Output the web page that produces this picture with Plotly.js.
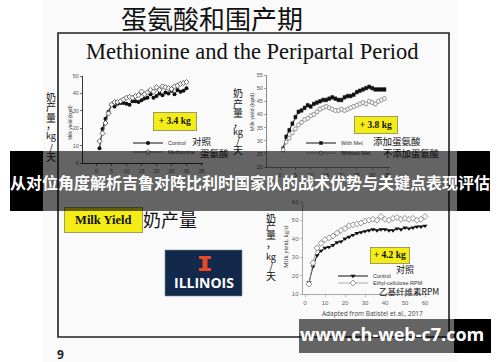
<!DOCTYPE html>
<html><head><meta charset="utf-8">
<script src="https://cdn.plot.ly/plotly-3.0.1.min.js"></script>
<style>html,body{margin:0;padding:0;background:#fff;}#chart{width:500px;height:362px;}</style>
</head><body><div id="chart"></div>
<script>
// ---- data ----
var days1 = [1,2,3,4,5,6,7,8,9,10,11,12,13,14,15,16,17,18,19,20,21,22,23,24,25,26,27,28,29,30];
var control1 = [8.5,19.5,25.5,29.5,33.5,32.5,34,34.5,34.5,34,33.5,35.5,35.5,35,36,37,37.5,39.5,37.5,38.5,40,39,40.5,40,41.5,39.5,42,41,41.5,43];
var methionine1 = [12.5,17,23,28.5,33.5,35,35,35.5,36.5,37.5,38,37.5,38.5,39,41,39.5,40.5,42,41,43.5,42,44,43.5,43,42.5,44,44.5,45.5,46,46.5];
var ticks1 = [0,5,10,15,20,25,30,35];

var days2 = [1,2,3,4,5,6,7,8,9,10,11,12,13,14,15,16,17,18,19,20,21,22,23,24,25,26,27,28,29,30,31,32,33,34];
var withMet = [27,31.5,34,36.5,39,41,41.5,42.5,43.5,43,44,44.5,45,45.5,45.5,46,46.5,46,45.5,45.5,46.5,47,47,47.5,48.5,49,49.5,50,50.5,50,49.5,49.5,49.5,49.5];
var withoutMet = [26.5,29.5,31,33,34.5,36,37,38,38.5,39.5,40,41,42,42.5,43,42.5,42,41.5,41.5,42,41.5,42,42.5,43,43.5,44,44.5,44,45,44.5,44,45,45.5,46];
var ticks2 = [0,5,10,15,20,25,30,35];

var days3 = [2,4,6,8,10,12,14,16,18,20,22,24,26,28,30,32,34,36,38,40,42,44,46,48,50,52,54,56,58,60];
var control3 = [16.5,25,31,33.5,35,35.5,36.5,38,38.5,40,41,42,43,43.5,44,44.5,45,44.5,45,45,44.5,44.5,45.5,45,46,45.5,46,46.5,46.5,47];
var rpm3 = [15.5,27,35,37.5,39.5,40.5,41.5,43,44.5,45.5,47,47.5,48,48.5,49.5,50,50.5,50,52,50.5,50,51,51.5,50.5,51,50.5,51,50,50.5,52];
var ticks3 = [0,10,20,30,40,50,60];

var gains = ['+ 3.4 kg', '+ 3.8 kg', '+ 4.2 kg'];

// ---- helpers (pixel -> paper) ----
function X(p){return p/500;}
function Y(p){return 1-p/362;}

var sansFont = 'Liberation Sans, Arial, sans-serif';
var cjk = 'Noto Sans CJK SC, sans-serif';
var serif = 'Liberation Serif, Times New Roman, serif';

var traces = [
  {x:days1, y:control1, xaxis:'x', yaxis:'y', name:'Control', legend:'legend', mode:'lines+markers',
   line:{color:'#111',width:1}, marker:{symbol:'circle',size:4,color:'#111'}},
  {x:days1, y:methionine1, xaxis:'x', yaxis:'y', name:'Methionine', legend:'legend2', mode:'lines+markers',
   line:{color:'#666',width:0.8}, marker:{symbol:'diamond',size:4,color:'#fff',line:{color:'#444',width:0.8}}},
  {x:days2, y:withMet, xaxis:'x2', yaxis:'y2', name:'With Met', legend:'legend3', mode:'lines+markers',
   line:{color:'#111',width:1}, marker:{symbol:'square',size:3.5,color:'#111'},
   error_y:{type:'constant',value:0.7,width:1.5,thickness:0.6,color:'#333'}},
  {x:days2, y:withoutMet, xaxis:'x2', yaxis:'y2', name:'Without Met', legend:'legend4', mode:'lines+markers',
   line:{color:'#999',width:0.8}, marker:{symbol:'circle',size:3.8,color:'#fff',line:{color:'#888',width:0.8}},
   error_y:{type:'constant',value:0.7,width:1.5,thickness:0.6,color:'#999'}},
  {x:days3, y:control3, xaxis:'x3', yaxis:'y3', name:'Control', legend:'legend5', mode:'lines+markers',
   line:{color:'#111',width:1}, marker:{symbol:'triangle-down',size:4.5,color:'#111'}},
  {x:days3, y:rpm3, xaxis:'x3', yaxis:'y3', name:'Ethyl-cellulose RPM', legend:'legend6', mode:'lines+markers',
   line:{color:'#999',width:0.8}, marker:{symbol:'diamond',size:4.5,color:'#fff',line:{color:'#777',width:0.8}}}
];

function axisStyle(o){
  var base = {showgrid:false, zeroline:false, showline:true, linewidth:1, ticks:'outside', ticklen:2, tickwidth:0.8,
    tickfont:{family:sansFont,size:5.5,color:'#555'}, fixedrange:true};
  for (var k in o) base[k]=o[k];
  return base;
}

function legendAt(xText, yMid){
  return {x:X(xText-42), y:Y(yMid), xanchor:'left', yanchor:'middle', bgcolor:'rgba(0,0,0,0)',
    borderwidth:0, itemwidth:30, font:{family:sansFont,size:5.5,color:'#333'}, tracegroupgap:0};
}

var annotations = [];
function ann(text, x, y, opt){
  var a = {text:text, x:X(x), y:Y(y), xref:'paper', yref:'paper', showarrow:false, xanchor:'center', yanchor:'middle'};
  for (var k in opt) a[k]=opt[k];
  annotations.push(a);
}

// Title texts
ann('蛋氨酸和围产期', 211.5, 18, {font:{family:cjk,size:26,color:'#111'}, borderpad:0});
ann('Methionine and the Peripartal Period', 251.5, 52, {font:{family:serif,size:22.5,color:'#111'}});

// vertical Chinese labels
var vchars = ['奶','产','量','，','kg','/','天'];
function vlabel(x, ys){
  for (var i=0;i<vchars.length;i++){
    ann(vchars[i], x, ys[i], {font:{family:cjk,size:(i===4?9:10),color:'#111'}});
  }
}
vlabel(51, [97,107,117,125,136,147,156]);
vlabel(238, [93,103,112,122,132,140,149]);
vlabel(271, [217,226,235,243,256,266,275]);

// small axis titles
ann('Milk yield (kg/d)', 70, 123, {textangle:-90, font:{family:sansFont,size:5,color:'#333'}});
ann('Milk yield (kg/d)', 252, 112, {textangle:-90, font:{family:sansFont,size:5.5,color:'#444'}});
ann('Milk yield, kg/d', 285, 247, {textangle:-90, font:{family:serif,size:6.5,color:'#333'}});

// Chinese legend labels
ann('对照', 202, 141, {font:{family:cjk,size:9.5,color:'#111'}});
ann('蛋氨酸', 214, 153, {font:{family:cjk,size:9.5,color:'#111'}});
ann('添加蛋氨酸', 397, 141, {font:{family:cjk,size:9.5,color:'#111'}});
ann('不添加蛋氨酸', 411, 153, {font:{family:cjk,size:9.3,color:'#111'}});
ann('对照', 404.5, 269, {font:{family:cjk,size:9,color:'#111'}});
ann('乙基纤维素RPM', 409, 291, {font:{family:cjk,size:8.5,color:'#111'}});

// gain boxes
var boxCenters = [[175,121.5,42,17],[376,125,42,16],[389.5,255,38,15]];
for (var i=0;i<gains.length;i++){
  var b = boxCenters[i];
  ann('<b>'+gains[i]+'</b>', b[0], b[1], {width:b[2], height:b[3], bgcolor:'#f4ec16', bordercolor:'#8a8a5a', borderwidth:0.8, borderpad:0,
    font:{family:serif,size:9.5,color:'#111'}});
}

// Milk yield tag
ann('<b>Milk Yield</b>', 103.5, 219.5, {width:77, height:24, bgcolor:'#f4ec16', bordercolor:'#8a8a5a', borderwidth:0.8, borderpad:0,
  font:{family:serif,size:12.5,color:'#111'}});
ann('奶产量', 170, 219, {font:{family:cjk,size:18,color:'#111'}});

// Illinois text
ann('<b>ILLINOIS</b>', 204, 282, {font:{family:'Open Sans, sans-serif',size:14,color:'#fff'}});

// source + page
ann('Adapted from Batistel et al., 2017', 372, 313, {font:{family:'Open Sans, sans-serif',size:6.5,color:'#444'}});
ann('<b>9</b>', 60, 354, {font:{family:'Open Sans, sans-serif',size:12,color:'#222'}});

// overlays (drawn last -> on top)
function bg(x0,x1,y0,y1,color){
  ann('&nbsp;', (x0+x1)/2, (y0+y1)/2, {width:x1-x0, height:y1-y0, bgcolor:color, borderpad:0, borderwidth:0, font:{size:4}});
}
bg(10,43,151,211,'#000');
bg(43,457,151,211,'rgba(0,0,0,0.6)');
bg(457,490,151,211,'#000');
ann('<b>从对位角度解析吉鲁对阵比利时国家队的战术优势与关键点表现评估</b>', 250, 182, {font:{family:cjk,size:16,color:'#fff'}});
bg(299,454,319,353,'rgba(0,0,0,0.6)');
bg(454,491,319,353,'#000');
ann('<b>www.ch-web-c7.com</b>', 392, 334, {font:{family:'Open Sans, sans-serif',size:18,color:'#fff'}});

var shapes = [
  {type:'rect', xref:'paper', yref:'paper', x0:X(43), x1:X(457), y0:0, y1:1, fillcolor:'#fafafa', line:{width:0}, layer:'below'},
  {type:'rect', xref:'paper', yref:'paper', x0:X(58), x1:X(449), y0:Y(337), y1:Y(33), fillcolor:'rgba(0,0,0,0)', line:{color:'#222',width:1.6}, layer:'below'},
  {type:'rect', xref:'paper', yref:'paper', x0:X(165), x1:X(242), y0:Y(296), y1:Y(250), fillcolor:'#13294b', line:{color:'#7d8799',width:0.6}, layer:'above'},
  {type:'rect', xref:'paper', yref:'paper', x0:X(199), x1:X(211), y0:Y(259), y1:Y(256), fillcolor:'#e84a27', line:{width:0}, layer:'above'},
  {type:'rect', xref:'paper', yref:'paper', x0:X(202.5), x1:X(207.5), y0:Y(268), y1:Y(259), fillcolor:'#e84a27', line:{width:0}, layer:'above'},
  {type:'rect', xref:'paper', yref:'paper', x0:X(199), x1:X(211), y0:Y(271), y1:Y(268), fillcolor:'#e84a27', line:{width:0}, layer:'above'}
];

var layout = {
  width:500, height:362, margin:{l:0,r:0,t:0,b:0},
  paper_bgcolor:'#ffffff', plot_bgcolor:'rgba(0,0,0,0)',
  xaxis: axisStyle({domain:[X(83),X(203)], range:[-4.5,35.5], tickvals:ticks1, anchor:'y', linecolor:'#333'}),
  yaxis: axisStyle({domain:[Y(163),Y(76)], range:[0,50], dtick:10, anchor:'x', linecolor:'#333'}),
  xaxis2: axisStyle({domain:[X(267),X(390)], range:[-4.25,35.8], tickvals:ticks2, anchor:'y2', linecolor:'#888', tickcolor:'#888'}),
  yaxis2: axisStyle({domain:[Y(167),Y(75)], range:[20,55], dtick:5, anchor:'x2', linecolor:'#888', tickcolor:'#888'}),
  xaxis3: axisStyle({domain:[X(302.7),X(430)], range:[-1.15,62.5], tickvals:ticks3, anchor:'y3', linecolor:'#aaa', tickcolor:'#aaa',
    tickfont:{family:sansFont,size:6,color:'#666'}}),
  yaxis3: axisStyle({domain:[Y(294.3),Y(201.7)], range:[10,60], dtick:10, anchor:'x3', linecolor:'#aaa', tickcolor:'#aaa',
    tickfont:{family:sansFont,size:6,color:'#666'}}),
  legend: legendAt(170,143),
  legend2: legendAt(170,152),
  legend3: legendAt(343,143),
  legend4: legendAt(343,153),
  legend5: legendAt(375,276),
  legend6: legendAt(375,283),
  showlegend:true,
  annotations: annotations,
  shapes: shapes
};

Plotly.newPlot('chart', traces, layout, {displayModeBar:false, staticPlot:true});
</script></body></html>
